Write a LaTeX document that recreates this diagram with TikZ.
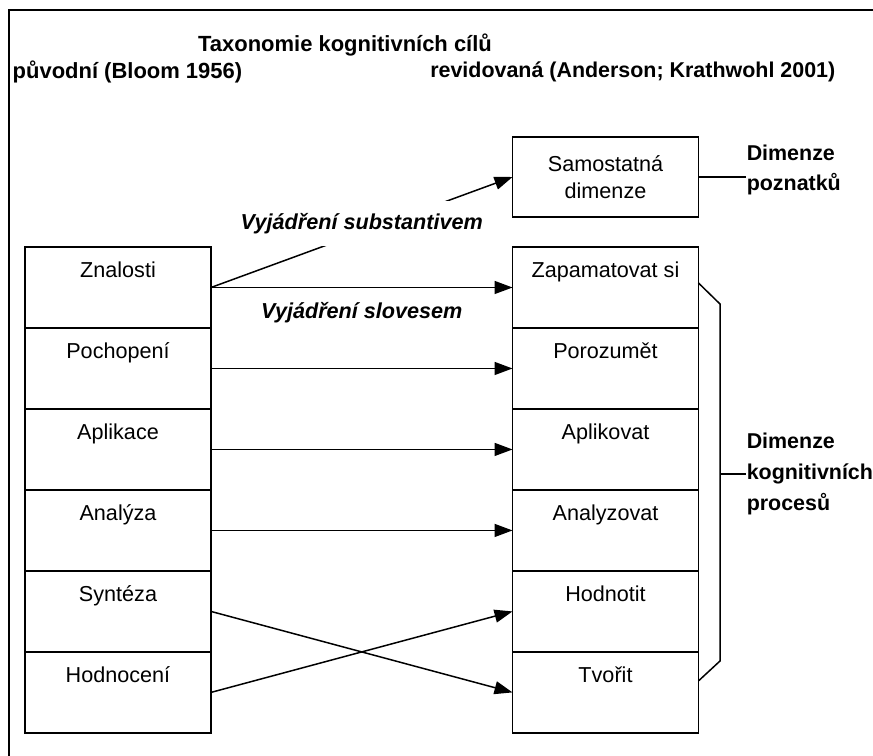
\documentclass[tikz,border=0pt]{standalone}
\usepackage{fontspec}
\setmainfont{Liberation Sans}
\usetikzlibrary{positioning,arrows.meta,calc}
\newcommand{\txtsize}{\fontsize{12.3}{15}\selectfont}
\tikzstyle{cell} = [rectangle, draw, minimum width=3.72cm, minimum height=1.62cm, outer sep=0pt, inner sep=0pt, text height=0.33cm, text depth=0.72cm, font=\txtsize]
\tikzstyle{sbox} = [rectangle, draw, minimum width=3.72cm, minimum height=1.6cm, outer sep=0pt, align=center, font=\fontsize{12.3}{15}\selectfont]
\tikzstyle{head} = [inner sep=0pt, font=\fontsize{12.5}{15}\selectfont\bfseries]
\tikzstyle{dimlabel} = [inner sep=0pt, anchor=west, align=left, font=\fontsize{12.2}{17}\selectfont\bfseries]
\tikzstyle{verblabel} = [inner xsep=1pt, font=\txtsize\bfseries\itshape]

\begin{document}
\begin{tikzpicture}[x=0.02cm, y=-0.02cm, line width=0.85pt, >={Triangle[length=0.36cm,width=0.26cm]}]
    \useasboundingbox (0,0) rectangle (873,756);
    \draw[line width=1.2pt] (873,10) -- (9,10) -- (9,756);

    % headings
    \node[head] (title) at (345,45) {Taxonomie kognitivních cílů};
    \node[head, anchor=west] (orig) at (12,72) {původní (Bloom 1956)};
    \node[head, anchor=east, font=\fontsize{12.2}{15}\selectfont\bfseries] (rev) at (836,72) {revidovaná (Anderson; Krathwohl 2001)};

    % Bloom 1956
    \node[cell] (znal) at (118,287.5) {Znalosti};
    \node[cell, below=0pt of znal] (poch) {Pochopení};
    \node[cell, below=0pt of poch] (apli) {Aplikace};
    \node[cell, below=0pt of apli] (anal) {Analýza};
    \node[cell, below=0pt of anal] (synt) {Syntéza};
    \node[cell, below=0pt of synt] (hodn) {Hodnocení};

    % Anderson, Krathwohl 2001
    \node[sbox] (samo) at (605.5,177) {Samostatná\\dimenze};
    \node[cell] (zapa) at (605.5,287.5) {Zapamatovat si};
    \node[cell, below=0pt of zapa] (poro) {Porozumět};
    \node[cell, below=0pt of poro] (apko) {Aplikovat};
    \node[cell, below=0pt of apko] (anzo) {Analyzovat};
    \node[cell, below=0pt of anzo] (hnot) {Hodnotit};
    \node[cell, below=0pt of hnot] (tvor) {Tvořit};

    \node[dimlabel] (dpoz) at (746,170) {Dimenze\\poznatků};
    \node[dimlabel, font=\fontsize{12.2}{17.6}\selectfont\bfseries] (dkog) at (746,474) {Dimenze\\kognitivních\\procesů};

    \draw[->] (znal.east) -- node[verblabel, fill=white, minimum height=0.9cm, pos=0.5, yshift=0.18cm] {Vyjádření substantivem} (samo.west);
    \draw[->] (znal.east) -- node[verblabel, pos=0.5, yshift=-0.51cm] {Vyjádření slovesem} (zapa.west);
    \draw[->] (poch.east) -- (poro.west);
    \draw[->] (apli.east) -- (apko.west);
    \draw[->] (anal.east) -- (anzo.west);
    \draw[->] (synt.east) -- (tvor.west);
    \draw[->] (hodn.east) -- (hnot.west);

    \draw (samo.east) -- (samo.east -| dpoz.west);
    \coordinate (btop) at (720,304);
    \coordinate (bbot) at (720,661);
    \draw ([yshift=0.09cm]zapa.east) -- (btop) -- (bbot) -- ([yshift=0.23cm]tvor.east);
    \draw (btop |- dkog.west) -- (dkog.west);
\end{tikzpicture}
\end{document}
